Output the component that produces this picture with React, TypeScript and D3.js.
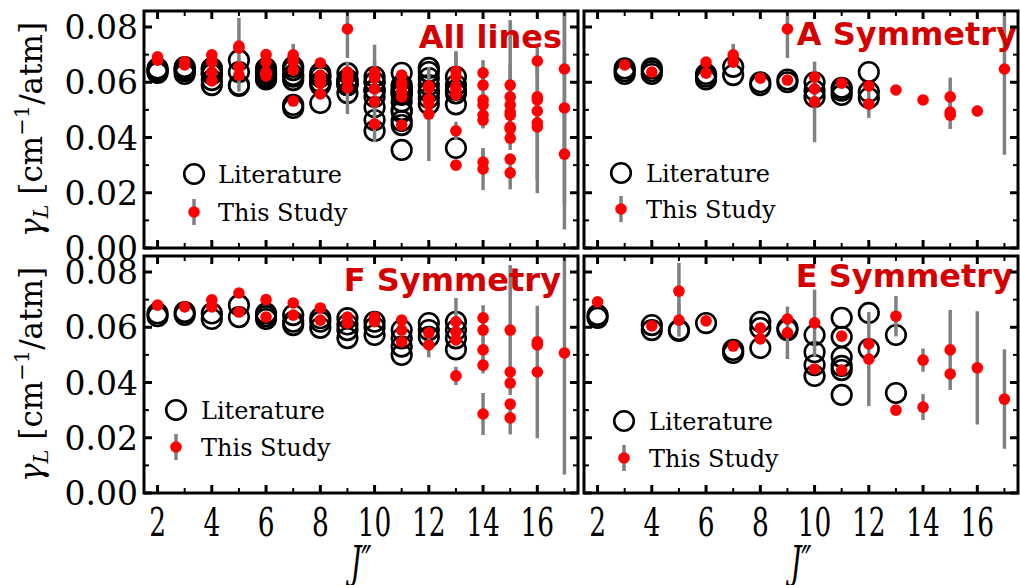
import * as d3 from "d3";

// [J'', gamma] literature values
const litA: number[][] = [
  [3, 0.065], [3, 0.064], [3, 0.063],
  [4, 0.065], [4, 0.064], [4, 0.063],
  [6, 0.063], [6, 0.062], [6, 0.061],
  [7, 0.0656], [7, 0.0626],
  [8, 0.06], [8, 0.059],
  [9, 0.061], [9, 0.06],
  [10, 0.06], [10, 0.057], [10, 0.0547],
  [11, 0.058], [11, 0.057], [11, 0.0554],
  [12, 0.0637], [12, 0.0565], [12, 0.0543],
];
const litF: number[][] = [
  [2, 0.065], [2, 0.064],
  [3, 0.0655], [3, 0.0645],
  [4, 0.065], [4, 0.063],
  [5, 0.068], [5, 0.0637],
  [6, 0.065], [6, 0.064], [6, 0.063],
  [7, 0.0644], [7, 0.062], [7, 0.0608],
  [8, 0.0633], [8, 0.062], [8, 0.0598],
  [9, 0.0633], [9, 0.061], [9, 0.059], [9, 0.0561],
  [10, 0.062], [10, 0.06], [10, 0.0572],
  [11, 0.059], [11, 0.056], [11, 0.053], [11, 0.05],
  [12, 0.0615], [12, 0.059], [12, 0.0565],
  [13, 0.062], [13, 0.059], [13, 0.056], [13, 0.052],
];
const litE: number[][] = [
  [2, 0.0644], [2, 0.0634],
  [4, 0.0608], [4, 0.059],
  [5, 0.059], [5, 0.0587],
  [6, 0.0615],
  [7, 0.0518], [7, 0.0507],
  [8, 0.062], [8, 0.0597], [8, 0.0525],
  [9, 0.0597], [9, 0.059],
  [10, 0.0572], [10, 0.051], [10, 0.0463], [10, 0.0424],
  [11, 0.0634], [11, 0.0565], [11, 0.0492], [11, 0.046], [11, 0.0445], [11, 0.0355],
  [12, 0.0652], [12, 0.0521],
  [13, 0.0572], [13, 0.0362],
];

// [J'', gamma, error] this study
const studyA: number[][] = [
  [3, 0.0663, 0.001], [4, 0.0637, 0.001], [6, 0.0673, 0.001], [6, 0.0633, 0.001],
  [7, 0.0699, 0.004], [7, 0.0673, 0.001], [8, 0.0615, 0.001], [9, 0.0793, 0.0105],
  [9, 0.0608, 0.001], [10, 0.0619, 0.001], [10, 0.0576, 0.001], [10, 0.0529, 0.0146],
  [11, 0.0597, 0.001], [12, 0.0587, 0.002], [12, 0.0521, 0.005], [13, 0.0572, 0.001],
  [14, 0.0536, 0.0015], [15, 0.0547, 0.007], [15, 0.0492, 0.001], [15, 0.0481, 0.005],
  [16, 0.0496, 0.002], [17, 0.0648, 0.031],
];
const studyF: number[][] = [
  [2, 0.068, 0.001], [3, 0.0674, 0.001], [4, 0.0699, 0.001], [4, 0.0674, 0.001],
  [5, 0.0724, 0.001], [5, 0.0655, 0.001], [6, 0.07, 0.001], [6, 0.0637, 0.001],
  [7, 0.0688, 0.001], [7, 0.0644, 0.001], [8, 0.067, 0.001], [8, 0.0626, 0.001],
  [9, 0.0637, 0.001], [9, 0.0615, 0.001], [10, 0.0637, 0.001], [10, 0.062, 0.001],
  [11, 0.0626, 0.001], [11, 0.059, 0.001], [11, 0.0547, 0.001],
  [12, 0.058, 0.002], [12, 0.0536, 0.0045],
  [13, 0.062, 0.0086], [13, 0.0583, 0.001], [13, 0.0554, 0.001], [13, 0.0424, 0.0033],
  [14, 0.0634, 0.0046], [14, 0.059, 0.004], [14, 0.0518, 0.004], [14, 0.0463, 0.003], [14, 0.0286, 0.0076],
  [15, 0.059, 0.0235], [15, 0.0438, 0.001], [15, 0.0398, 0.001], [15, 0.0322, 0.001], [15, 0.0272, 0.006],
  [16, 0.0547, 0.001], [16, 0.0536, 0.001], [16, 0.0438, 0.024],
  [17, 0.0507, 0.044],
];
const studyE: number[][] = [
  [2, 0.0692, 0.001], [4, 0.0605, 0.001], [5, 0.0731, 0.0102], [5, 0.0626, 0.006],
  [6, 0.0623, 0.001], [7, 0.0532, 0.001], [8, 0.0597, 0.001], [8, 0.0558, 0.001],
  [9, 0.063, 0.001], [9, 0.058, 0.0095], [10, 0.0616, 0.012], [10, 0.0449, 0.001],
  [11, 0.0568, 0.001], [11, 0.0445, 0.001], [12, 0.054, 0.001], [12, 0.0485, 0.017],
  [13, 0.064, 0.0073], [13, 0.03, 0.001], [14, 0.0481, 0.0042], [14, 0.0311, 0.0047],
  [15, 0.0518, 0.0145], [15, 0.0431, 0.001], [16, 0.0453, 0.0205], [17, 0.034, 0.018],
];
// lines only in the combined set
const studyOther: number[][] = [[16, 0.0677, 0.005]];

const xTicks = [2, 4, 6, 8, 10, 12, 14, 16];
const yTicks = [0, 0.02, 0.04, 0.06, 0.08];

const PW = 434;
const PH = 237;
const RED = "#ff0000";
const TITLE_RED = "#d40000";
const GREY = "#808080";

const panels = [
  {
    title: "All lines", x0: 144, y0: 11, titleX: 562, titleY: 48,
    lit: [...litA, ...litF, ...litE], study: [...studyA, ...studyF, ...studyE, ...studyOther],
    leg: [194, 174, 212, 218], yLab: true, xLab: false,
  },
  {
    title: "A Symmetry", x0: 584, y0: 11, titleX: 1017, titleY: 45,
    lit: litA, study: studyA, leg: [621, 173, 209, 646], yLab: false, xLab: false,
  },
  {
    title: "F Symmetry", x0: 144, y0: 256, titleX: 561, titleY: 291,
    lit: litF, study: studyF, leg: [176, 410, 447, 201], yLab: true, xLab: true,
  },
  {
    title: "E Symmetry", x0: 584, y0: 256, titleX: 1013, titleY: 287,
    lit: litE, study: studyE, leg: [624, 421, 458, 649], yLab: false, xLab: true,
  },
];

function Panel({ p, i }: { p: any; i: number }) {
  const x = d3.scaleLinear().domain([1.5, 17.5]).range([p.x0, p.x0 + PW]);
  const y = d3.scaleLinear().domain([0, 0.0858]).range([p.y0 + PH, p.y0]);
  const xAll = d3.range(2, 18);
  const yAll = d3.range(0, 9).map((k) => k * 0.01);
  const clip = `clip${i}`;
  const [lcx, lcy, ldy, ltx] = p.leg;
  return (
    <g>
      <clipPath id={clip}>
        <rect x={p.x0} y={p.y0} width={PW} height={PH} />
      </clipPath>
      <g clipPath={`url(#${clip})`}>
        {p.lit.map((d: number[], k: number) => (
          <circle key={"l" + k} cx={x(d[0])} cy={y(d[1])} r={9.8} fill="none" stroke="#000" strokeWidth={2.6} />
        ))}
        {p.study.map((d: number[], k: number) => (
          <line key={"e" + k} x1={x(d[0])} x2={x(d[0])} y1={y(d[1] - d[2])} y2={y(d[1] + d[2])} stroke={GREY} strokeWidth={3.5} />
        ))}
        {p.study.map((d: number[], k: number) => (
          <circle key={"s" + k} cx={x(d[0])} cy={y(d[1])} r={5.8} fill={RED} />
        ))}
      </g>
      <text x={p.titleX} y={p.titleY} textAnchor="end" fontFamily="DejaVu Sans" fontWeight="bold" fontSize={32} fill={TITLE_RED}>
        {p.title}
      </text>
      {/* legend */}
      <circle cx={lcx} cy={lcy} r={9.8} fill="none" stroke="#000" strokeWidth={2.6} />
      <text x={ltx} y={lcy + 9} fontFamily="DejaVu Serif" fontSize={24}>Literature</text>
      <line x1={lcx} x2={lcx} y1={ldy - 13} y2={ldy + 13} stroke={GREY} strokeWidth={3.5} />
      <circle cx={lcx} cy={ldy} r={5.8} fill={RED} />
      <text x={ltx} y={ldy + 9} fontFamily="DejaVu Serif" fontSize={24}>This Study</text>
      {/* ticks */}
      {xAll.map((t) => {
        const major = t % 2 === 0;
        const len = major ? 8 : 5;
        return (
          <g key={"xt" + t} stroke="#000" strokeWidth={major ? 3 : 2}>
            <line x1={x(t)} x2={x(t)} y1={p.y0 + PH} y2={p.y0 + PH - len} />
            <line x1={x(t)} x2={x(t)} y1={p.y0} y2={p.y0 + len} />
          </g>
        );
      })}
      {yAll.map((t, k) => {
        const major = k % 2 === 0;
        const len = major ? 8 : 5;
        return (
          <g key={"yt" + k} stroke="#000" strokeWidth={major ? 3 : 2}>
            <line x1={p.x0} x2={p.x0 + len} y1={y(t)} y2={y(t)} />
            <line x1={p.x0 + PW} x2={p.x0 + PW - len} y1={y(t)} y2={y(t)} />
          </g>
        );
      })}
      <rect x={p.x0} y={p.y0} width={PW} height={PH} fill="none" stroke="#000" strokeWidth={3} />
      {p.yLab &&
        yTicks.map((t) => (
          <text key={"yl" + t} x={p.x0 - 6} y={y(t) + 12} textAnchor="end" fontFamily="DejaVu Serif" fontSize={33}>
            {t.toFixed(2)}
          </text>
        ))}
      {p.yLab && (
        <text transform={`translate(42,${p.y0 + PH / 2}) rotate(-90)`} textAnchor="middle" fontFamily="DejaVu Serif" fontSize={31}>
          <tspan fontStyle="italic">γ</tspan>
          <tspan fontStyle="italic" fontSize={21} dy={6}>L</tspan>
          <tspan dy={-6}> [cm</tspan>
          <tspan fontSize={21} dy={-13}>−1</tspan>
          <tspan dy={13}>/atm]</tspan>
        </text>
      )}
      {p.xLab &&
        xTicks.map((t) => (
          <text key={"xl" + t} transform={`translate(${x(t)},536) scale(0.66,1)`} textAnchor="middle" fontFamily="DejaVu Serif" fontSize={40}>
            {t}
          </text>
        ))}
      {p.xLab && (
        <text transform={`translate(${p.x0 + PW / 2},578) scale(0.62,1)`} textAnchor="middle" fontFamily="DejaVu Serif" fontStyle="italic" fontSize={44}>
          J″
        </text>
      )}
    </g>
  );
}

export default function App() {
  return (
    <svg width={1020} height={585} style={{ position: "absolute", left: 0, top: 0, background: "#fff" }}>
      {panels.map((p, i) => (
        <Panel key={i} p={p} i={i} />
      ))}
    </svg>
  );
}
